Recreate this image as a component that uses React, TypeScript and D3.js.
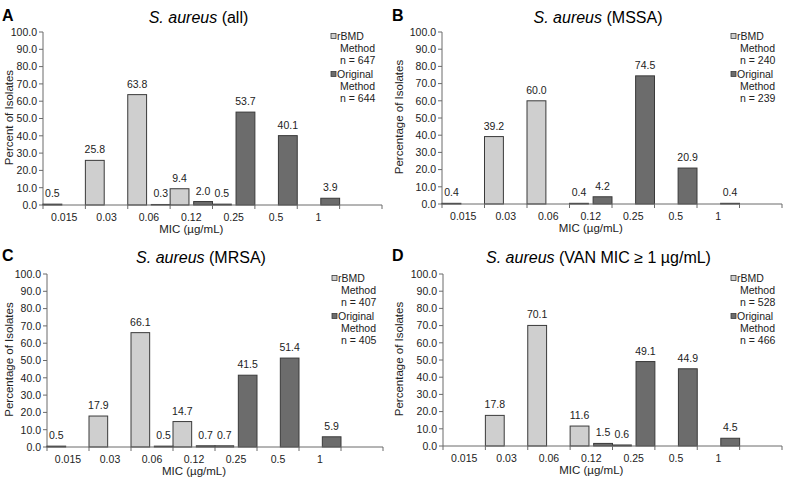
import React from "react";
import * as d3 from "d3";

const categories = ["0.015", "0.03", "0.06", "0.12", "0.25", "0.5", "1", ""];
const yTicks = [0, 10, 20, 30, 40, 50, 60, 70, 80, 90, 100];
const seriesNames = ["rBMD", "Original"];

const allRbmd = [0.5, 25.8, 63.8, 9.4, 0.5, 0, 0, 0];
const allOriginal = [0, 0, 0.3, 2.0, 53.7, 40.1, 3.9, 0];
const mssaRbmd = [0.4, 39.2, 60.0, 0.4, 0, 0, 0, 0];
const mssaOriginal = [0, 0, 0, 4.2, 74.5, 20.9, 0.4, 0];
const mrsaRbmd = [0.5, 17.9, 66.1, 14.7, 0.7, 0, 0, 0];
const mrsaOriginal = [0, 0, 0.5, 0.7, 41.5, 51.4, 5.9, 0];
const vanRbmd = [0, 17.8, 70.1, 11.6, 0.6, 0, 0, 0];
const vanOriginal = [0, 0, 0, 1.5, 49.1, 44.9, 4.5, 0];

const panelLetters = ["A", "B", "C", "D"];
const panelSubtitles = ["(all)", "(MSSA)", "(MRSA)", "(VAN MIC \u2265 1 \u00b5g/mL)"];
const yTitles = ["Percent of Isolates", "Percentage of Isolates", "Percentage of Isolates", "Percentage of Isolates"];
const nRbmd = [647, 240, 407, 528];
const nOriginal = [644, 239, 405, 466];

const FONT = "'Liberation Sans', Arial, Helvetica, sans-serif";
const LIGHT = "#cfcfcf";
const DARK = "#6c6c6c";
const STROKE = "#3a3a3a";
const AXIS = "#6a6a6a";
const TEXT = "#222";

type Geo = { x0: number; x1: number; yTop: number; yBot: number; ox: number; oy: number };

const geos: Geo[] = [
  { x0: 43, x1: 382, yTop: 32, yBot: 205, ox: 0, oy: 0 },
  { x0: 442, x1: 782, yTop: 32, yBot: 204, ox: 390, oy: 0 },
  { x0: 47, x1: 383, yTop: 274, yBot: 447, ox: 0, oy: 240 },
  { x0: 443, x1: 782, yTop: 274, yBot: 446, ox: 390, oy: 240 },
];

function Panel({ idx, rbmd, original }: { idx: number; rbmd: number[]; original: number[] }) {
  const g = geos[idx];
  const x = d3.scaleBand<string>().domain(categories.map((c, i) => String(i))).range([g.x0, g.x1]).paddingInner(0).paddingOuter(0);
  const inner = d3.scaleBand<string>().domain(seriesNames).range([0, x.bandwidth()]).paddingInner(0.2).paddingOuter(0);
  const y = d3.scaleLinear().domain([0, 100]).range([g.yBot, g.yTop]);
  const series = [rbmd, original];
  const fills = [LIGHT, DARK];
  const bw = x.bandwidth();
  const tickXs = categories.map((_, i) => (x(String(i)) as number)).concat([g.x1]);
  const legX = g.x1 - 51;
  const legY = g.yTop;
  const titleCx = (g.x0 + g.x1) / 2 - 14;
  const xTitleCx = (g.x0 + (x("7") as number)) / 2;
  return (
    <g>
      <text x={g.ox + 2} y={g.oy + 21} fontSize={16} fontWeight="bold" fill="#000">{panelLetters[idx]}</text>
      <text x={titleCx} y={g.oy + 23} fontSize={16} textAnchor="middle" fill="#000">
        <tspan fontStyle="italic">S. aureus</tspan>
        <tspan> {panelSubtitles[idx]}</tspan>
      </text>
      {/* y axis */}
      <line x1={g.x0} x2={g.x0} y1={g.yTop} y2={g.yBot} stroke={AXIS} strokeWidth={1} />
      {yTicks.map((t) => (
        <g key={t}>
          <line x1={g.x0 - 4} x2={g.x0} y1={y(t)} y2={y(t)} stroke={AXIS} strokeWidth={1} />
          <text x={g.x0 - 6} y={y(t) + 3.8} fontSize={10.5} textAnchor="end" fill={TEXT}>{d3.format(".1f")(t)}</text>
        </g>
      ))}
      <text transform={`translate(${g.ox + 13},${(g.yTop + g.yBot) / 2 - 1}) rotate(-90)`} fontSize={11.5} textAnchor="middle" fill={TEXT}>{yTitles[idx]}</text>
      {/* bars */}
      {series.map((vals, s) =>
        vals.map((v, i) =>
          v > 0 ? (
            <rect key={`${s}-${i}`} x={(x(String(i)) as number) + (inner(seriesNames[s]) as number)} y={y(v)} width={inner.bandwidth()} height={g.yBot - y(v)} fill={fills[s]} stroke={STROKE} strokeWidth={1} />
          ) : null
        )
      )}
      {series.map((vals, s) =>
        vals.map((v, i) =>
          v > 0 ? (
            <text key={`l${s}-${i}`} x={(x(String(i)) as number) + (inner(seriesNames[s]) as number) + inner.bandwidth() / 2} y={y(v) - 7} fontSize={10.5} textAnchor="middle" fill={TEXT}>{d3.format(".1f")(v)}</text>
          ) : null
        )
      )}
      {/* x axis */}
      <line x1={g.x0} x2={g.x1} y1={g.yBot} y2={g.yBot} stroke={AXIS} strokeWidth={1} />
      {tickXs.map((tx, i) => (
        <line key={i} x1={tx} x2={tx} y1={g.yBot} y2={g.yBot + 4} stroke={AXIS} strokeWidth={1} />
      ))}
      {categories.map((c, i) => (
        <text key={i} x={(x(String(i)) as number) + bw / 2} y={g.yBot + 16} fontSize={10.5} textAnchor="middle" fill={TEXT}>{c}</text>
      ))}
      <text x={xTitleCx} y={g.yBot + 27.5} fontSize={11.5} textAnchor="middle" fill={TEXT}>MIC (µg/mL)</text>
      {/* legend */}
      {[0, 1].map((s) => {
        const by = legY + (s === 0 ? 0 : 38);
        const nval = s === 0 ? nRbmd[idx] : nOriginal[idx];
        return (
          <g key={s}>
            <rect x={legX} y={by + 1.5} width={5} height={5} fill={fills[s]} stroke={STROKE} strokeWidth={0.8} />
            <text x={legX + 6} y={by + 8} fontSize={10.5} fill={TEXT}>{s === 0 ? "rBMD" : "Original"}</text>
            <text x={legX + 9} y={by + 20} fontSize={10.5} fill={TEXT}>Method</text>
            <text x={legX + 9} y={by + 32} fontSize={10.5} fill={TEXT}>n = {nval}</text>
          </g>
        );
      })}
    </g>
  );
}

export default function App() {
  const data = [
    [allRbmd, allOriginal],
    [mssaRbmd, mssaOriginal],
    [mrsaRbmd, mrsaOriginal],
    [vanRbmd, vanOriginal],
  ];
  return (
    <svg width={785} height={477} style={{ position: "absolute", left: 0, top: 0, background: "#fff" }} fontFamily={FONT}>
      <rect width={785} height={477} fill="#fff" />
      {data.map((d, i) => (
        <Panel key={i} idx={i} rbmd={d[0]} original={d[1]} />
      ))}
    </svg>
  );
}
